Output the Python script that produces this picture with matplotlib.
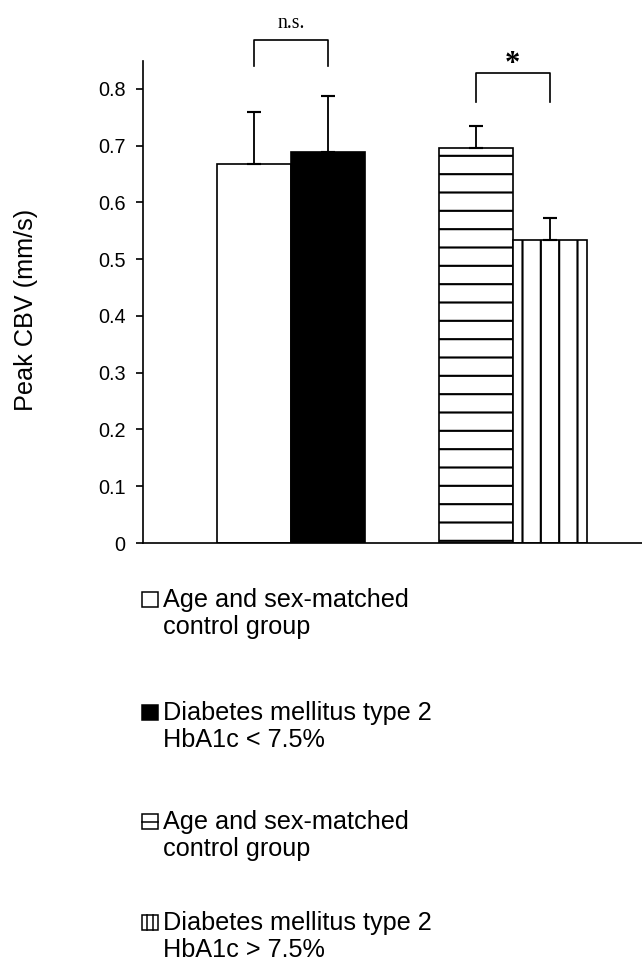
import numpy as np
import matplotlib.pyplot as plt
from matplotlib.patches import Rectangle
from matplotlib.lines import Line2D

# data
groups = ['Age and sex-matched\ncontrol group',
          'Diabetes mellitus type 2\nHbA1c < 7.5%',
          'Age and sex-matched\ncontrol group',
          'Diabetes mellitus type 2\nHbA1c > 7.5%']
x_pos = [0, 1, 3, 4]
peak_cbv = [0.668, 0.688, 0.696, 0.534]
sd_up = [0.091, 0.100, 0.038, 0.039]
y_ticks = [0, 0.1, 0.2, 0.3, 0.4, 0.5, 0.6, 0.7, 0.8]
tick_labels = ['0', '0.1', '0.2', '0.3', '0.4', '0.5', '0.6', '0.7', '0.8']
comparisons = [(0, 1, 'n.s.'), (2, 3, '*')]   # indices into the bar lists

# styles
faces = ['white', 'black', 'white', 'white']
hatches = [None, None, '-', '|']
# small legend boxes: (orientation, number of inner lines)
legend_marks = [None, None, ('h', 1), ('v', 2)]

DPI = 110
plt.rcParams['font.family'] = 'Liberation Sans'
plt.rcParams['hatch.linewidth'] = 1.4
plt.rcParams['axes.linewidth'] = 1.1

fig = plt.figure(figsize=(642 / DPI, 965 / DPI), dpi=DPI)
ax = fig.add_axes([143 / 642, 422 / 965, 499 / 642, 482 / 965])

for xi, v, fc, h in zip(x_pos, peak_cbv, faces, hatches):
    ax.bar(xi, v, width=1.0, color=fc, edgecolor='black', linewidth=1.1,
           hatch=h, zorder=2)

ax.errorbar(x_pos, peak_cbv, yerr=[np.zeros(len(sd_up)), sd_up], fmt='none',
            ecolor='black', elinewidth=1.2, capsize=4.5, capthick=1.4, zorder=3)

ax.set_xlim(-1.5, 5.25)
ax.set_ylim(0, 0.849)
ax.set_yticks(y_ticks)
ax.set_yticklabels(tick_labels, fontsize=13)
ax.set_xticks([])
ax.tick_params(axis='y', direction='out', length=4.5, width=1.1, pad=7)
ax.spines['top'].set_visible(False)
ax.spines['right'].set_visible(False)

ax.set_ylabel('Peak CBV (mm/s)', fontsize=16.5)
ax.yaxis.set_label_coords(-0.21, 0.483)

# significance brackets
bracket_levels = [(0.886, 0.8405, 0.915), (0.827, 0.777, 0.843)]
for (a, b, txt), (top, bot, ty) in zip(comparisons, bracket_levels):
    xa, xb = x_pos[a], x_pos[b]
    ax.plot([xa, xa, xb, xb], [bot, top, top, bot], color='black', lw=1.1,
            clip_on=False)
    if txt == '*':
        ax.text((xa + xb) / 2, ty, txt, ha='center', va='center', fontsize=20,
                fontweight='bold', family='Liberation Serif')
    else:
        ax.text((xa + xb) / 2, ty, txt, ha='center', va='center', fontsize=13,
                family='Liberation Serif')

# legend below the plot
base_y = [607, 720, 829, 930]
bw, bh = 16 / 642, 15 / 965
for lab, fc, mk, yb in zip(groups, faces, legend_marks, base_y):
    fy = 1 - yb / 965
    bx = 142 / 642
    fig.patches.append(Rectangle((bx, fy), bw, bh, transform=fig.transFigure,
                                 facecolor=fc, edgecolor='black', linewidth=1.0))
    if mk is not None:
        orient, n = mk
        for k in range(1, n + 1):
            if orient == 'h':
                yy = fy + bh * k / (n + 1)
                fig.lines.append(Line2D([bx, bx + bw], [yy, yy], color='black',
                                        lw=1.0, transform=fig.transFigure))
            else:
                xx = bx + bw * k / (n + 1)
                fig.lines.append(Line2D([xx, xx], [fy, fy + bh], color='black',
                                        lw=1.0, transform=fig.transFigure))
    first, second = lab.split('\n')
    fig.text(163 / 642, fy, first, ha='left', va='baseline', fontsize=16.5)
    fig.text(163 / 642, fy - 27 / 965, second, ha='left', va='baseline',
             fontsize=16.5)

plt.savefig('out.png', dpi=DPI)
